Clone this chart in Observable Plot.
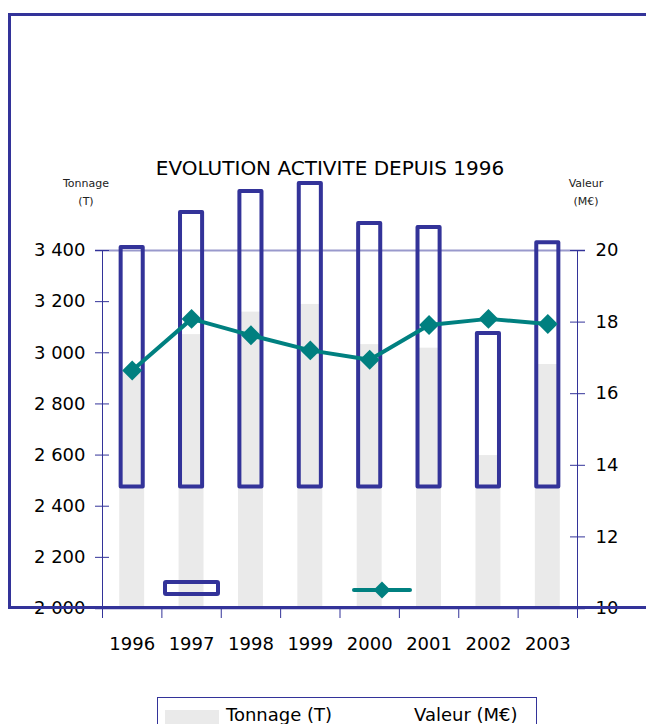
<!DOCTYPE html>
<html>
<head>
<meta charset="utf-8">
<script src="https://cdn.jsdelivr.net/npm/d3@7"></script>
<script src="https://cdn.jsdelivr.net/npm/@observablehq/plot@0.6"></script>
<style>
  html, body { margin: 0; padding: 0; width: 646px; height: 724px; overflow: hidden; background: #fff; }
  body { font-family: "DejaVu Sans", sans-serif; color: #000; }
  #wrap { position: relative; width: 646px; height: 724px; overflow: hidden; }
  #chart { position: absolute; left: 0; top: 0; }
  .abs { position: absolute; white-space: nowrap; }
  #frame { position: absolute; left: 8px; top: 13px; width: 700px; height: 590px;
           border-left: 3px solid #333399; border-top: 3px solid #333399; border-bottom: 3px solid #333399;
           pointer-events: none; }
  #title { left: 0; width: 660px; top: 158px; text-align: center; font-size: 20px; line-height: 20px; }
  .axtitle { font-size: 11px; line-height: 18px; text-align: center; width: 80px; top: 175px; color: #222; }
  #keyRect { position: absolute; left: 163px; top: 580px; width: 57px; height: 16px; box-sizing: border-box;
             border: 4px solid #333399; border-radius: 3px; }
  #keyLine { position: absolute; left: 351px; top: 579px; }
  #legend { position: absolute; left: 157px; top: 697px; width: 378px; height: 60px; border: 1px solid #333399; }
  #swatch { position: absolute; left: 165px; top: 710px; width: 54px; height: 14px; background: #eaeaea; }
  .legtext { font-size: 18px; line-height: 18px; top: 706px; }
</style>
</head>
<body>
<div id="wrap">
  <div id="chart"></div>
  <div id="title" class="abs">EVOLUTION ACTIVITE DEPUIS 1996</div>
  <div class="abs axtitle" style="left:46px">Tonnage<br>(T)</div>
  <div class="abs axtitle" style="left:546px">Valeur<br>(M€)</div>
  <div id="keyRect"></div>
  <svg id="keyLine" width="64" height="22">
    <line x1="3" y1="11" x2="59" y2="11" stroke="#008080" stroke-width="4" stroke-linecap="round"></line>
    <polygon points="31,2.5 39.5,11 31,19.5 22.5,11" fill="#008080"></polygon>
  </svg>
  <div id="legend"></div>
  <div id="swatch"></div>
  <div class="abs legtext" style="left:226px">Tonnage (T)</div>
  <div class="abs legtext" style="left:414px">Valeur (M€)</div>
  <div id="frame"></div>
</div>
<script>
// ---- data ----
const years = [1996, 1997, 1998, 1999, 2000, 2001, 2002, 2003];
const tonnage = [2930, 3071, 3159, 3189, 3032, 3018, 2598, 2954];          // grey bars (T)
const tonnageOutline = [3412, 3549, 3631, 3662, 3506, 3490, 3075, 3430];   // outlined bars (T)
const outlineBase = 2475;                                                  // base of outlined bars (T)
const valeur = [16.65, 18.09, 17.63, 17.21, 16.95, 17.92, 18.09, 17.95];   // Valeur (M€)
const leftTicks = [2000, 2200, 2400, 2600, 2800, 3000, 3200, 3400];
const rightTicks = [10, 12, 14, 16, 18, 20];
const leftDomain = [2000, 3400];
const rightDomain = [10, 20];

// map right-axis values (M€) onto the left scale (T)
const toLeft = v => leftDomain[0] + (v - rightDomain[0]) * (leftDomain[1] - leftDomain[0]) / (rightDomain[1] - rightDomain[0]);
const fromLeft = t => rightDomain[0] + (t - leftDomain[0]) * (rightDomain[1] - rightDomain[0]) / (leftDomain[1] - leftDomain[0]);

const fmt = d3.formatLocale({decimal: ",", thousands: " ", grouping: [3], currency: ["", ""]}).format(",");
const rows = years.map((year, i) => ({year, tonnage: tonnage[i], outline: tonnageOutline[i], valeur: valeur[i]}));
const bounds = d3.range(years.length + 1).map(i => years[0] - 0.5 + i);
const xDomain = [bounds[0], bounds[bounds.length - 1]];

const chart = Plot.plot({
  width: 646,
  height: 724,
  marginLeft: 102,
  marginRight: 69,
  marginTop: 250,
  marginBottom: 116,
  style: {fontFamily: "DejaVu Sans, sans-serif", fontSize: "18px", color: "#000", background: "transparent", overflow: "visible"},
  x: {type: "linear", domain: xDomain, axis: null, label: null},
  y: {domain: leftDomain, axis: null, label: null},
  marks: [
    Plot.rect(rows, {x1: d => d.year - 0.21, x2: d => d.year + 0.21, y1: leftDomain[0], y2: "tonnage", fill: "#eaeaea"}),
    Plot.ruleY([leftDomain[1]], {stroke: "#9999cc", strokeWidth: 2, insetLeft: -7, insetRight: -8}),
    Plot.ruleY([leftDomain[0]], {stroke: "#9999cc", strokeWidth: 2, insetLeft: -7, insetRight: -8}),
    Plot.ruleX([xDomain[0], xDomain[1]], {stroke: "#333399", strokeWidth: 1, insetBottom: -10}),
    // left ticks crossing the axis
    Plot.ruleY(leftTicks, {x1: xDomain[0], x2: xDomain[0], insetLeft: -7, insetRight: -7, stroke: "#333399", strokeWidth: 1}),
    // right ticks crossing the axis
    Plot.ruleY(rightTicks.map(toLeft), {x1: xDomain[1], x2: xDomain[1], insetLeft: -7, insetRight: -8, stroke: "#333399", strokeWidth: 1}),
    // x ticks at category boundaries
    Plot.ruleX(bounds, {y1: leftDomain[0], y2: leftDomain[0], insetBottom: -10, stroke: "#333399", strokeWidth: 1}),
    Plot.axisY({ticks: leftTicks, tickFormat: fmt, tickSize: 0, tickPadding: 17, label: null}),
    Plot.axisY({anchor: "right", ticks: rightTicks.map(toLeft), tickFormat: t => String(Math.round(fromLeft(t))), tickSize: 0, tickPadding: 18, label: null}),
    Plot.axisX({ticks: years, tickFormat: d => String(d), tickSize: 0, tickPadding: 29, label: null}),
    Plot.rect(rows, {x1: d => d.year - 0.186, x2: d => d.year + 0.186, y1: outlineBase, y2: "outline",
                     fill: "none", stroke: "#333399", strokeWidth: 4, strokeLinejoin: "round"}),
    Plot.line(rows, {x: "year", y: d => toLeft(d.valeur), stroke: "#008080", strokeWidth: 4}),
    Plot.dot(rows, {x: "year", y: d => toLeft(d.valeur), symbol: "diamond2", r: 9, fill: "#008080", stroke: "none"})
  ]
});
document.getElementById("chart").appendChild(chart);
</script>
</body>
</html>
